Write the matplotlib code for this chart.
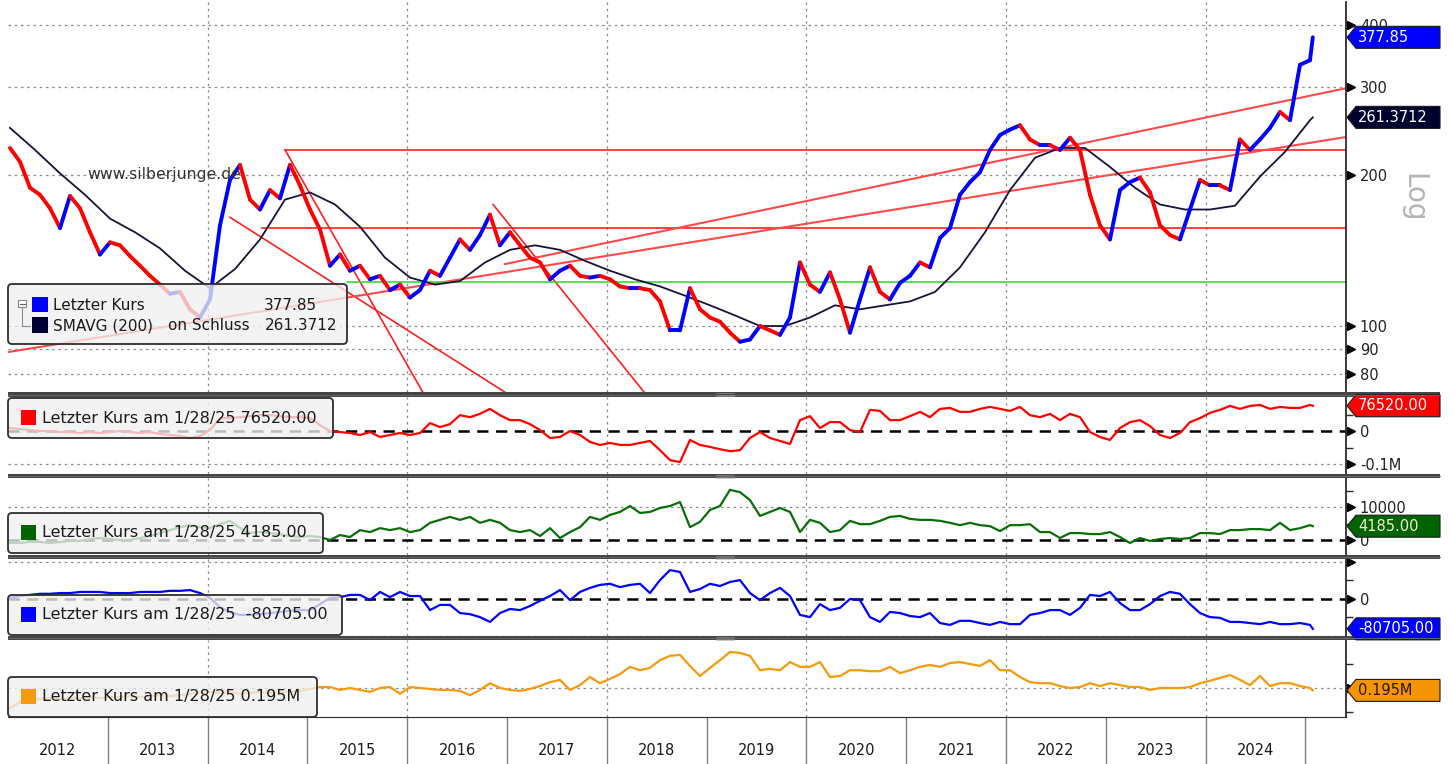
import numpy as np
import matplotlib
matplotlib.use('Agg')
import matplotlib.pyplot as plt
from matplotlib.collections import LineCollection
from matplotlib.patches import Rectangle, Polygon, FancyBboxPatch
from matplotlib.transforms import ScaledTranslation

# ---- data ----
# sample dates as decimal years (one reading about every 5 weeks), last quote 28 Jan 2025
LAST_DATE = 2025.074
dates = np.append(np.linspace(2012.02, 2025.046, 131), LAST_DATE)
sma_dates = np.append(np.linspace(2012.02, 2025.046, 53), LAST_DATE)

price = [227, 213, 189, 183, 172, 157, 182, 172, 154, 139,
         147, 145, 138, 132, 126, 121, 116, 117, 108, 104,
         113, 159, 196, 210, 179, 171, 187, 180, 210, 191,
         171, 156, 132, 139, 129, 132, 124, 126, 118, 121,
         114, 118, 129, 126, 137, 149, 142, 152, 167, 145,
         154, 145, 137, 134, 124, 129, 132, 126, 125, 126,
         124, 120, 119, 119, 118, 112, 98, 98, 119, 108,
         104, 102, 97, 93, 94, 100, 98, 96, 104, 134,
         121, 117, 128, 113, 97, 113, 131, 117, 113, 122,
         126, 134, 131, 150, 157, 183, 194, 203, 225, 241,
         247, 252, 236, 230, 230, 225, 238, 225, 183, 159,
         149, 187, 194, 198, 185, 159, 152, 149, 171, 196,
         191, 191, 187, 236, 225, 236, 249, 268, 258, 333,
         340, 377.85]

sma200 = [249, 225, 202, 183, 164, 154, 143, 129, 119, 130,
          149, 179, 185, 175, 158, 137, 125, 121, 123, 134,
          142, 145, 142, 135, 129, 124, 120, 115, 110, 105,
          100, 100, 104, 110, 108, 110, 112, 117, 131, 154,
          187, 217, 227, 227, 208, 189, 175, 171, 171, 174,
          199, 223, 258, 261.3712]

# lower panels (positions, thousands of contracts except the green one)
red_k = [9, 6, 3, 0, 0, -3, -3, -6, -3, -6,
         -3, 0, -3, -6, -3, -9, -12, -15, -21, -15,
         3, 39, 39, 42, 45, 48, 48, 45, 42, 42,
         39, 18, 0, -3, -6, -12, -3, -18, -12, -6,
         -12, -6, 24, 12, 21, 48, 42, 52, 67, 48,
         33, 33, 21, 3, -21, -18, 0, -12, -33, -42,
         -36, -42, -42, -36, -30, -58, -88, -94, -27, -42,
         -48, -55, -61, -58, -21, -3, -21, -30, -39, 33,
         45, 9, 27, 27, 3, -3, 64, 61, 33, 33,
         45, 58, 42, 67, 70, 58, 58, 67, 73, 67,
         61, 73, 48, 42, 52, 33, 52, 42, -3, -18,
         -27, 9, 27, 33, 15, -12, -21, -6, 27, 39,
         55, 64, 76, 67, 76, 79, 67, 73, 70, 70,
         79, 76.52]

green = [-900, -900, -600, -600, -900, -600, -300, -300, 300, 600,
         300, 0, 0, 600, 1200, 2100, 3000, 3900, 4500, 3900,
         3600, 4800, 5800, 3600, 2100, 2400, 2100, 1800, 1200, 900,
         1200, 900, 0, 1500, 900, 3000, 2400, 3600, 3000, 3600,
         2400, 3000, 5200, 6100, 7000, 6100, 7000, 5200, 6100, 5200,
         3000, 2400, 3000, 1200, 3600, 600, 2400, 3900, 7000, 6100,
         7600, 8500, 10300, 8200, 8500, 9700, 10300, 11500, 3900, 5500,
         9100, 10300, 15200, 14500, 12100, 7300, 8500, 9700, 8500, 2400,
         6100, 5200, 2400, 3000, 5800, 4800, 4800, 5800, 7000, 7300,
         6400, 6100, 6100, 5800, 5200, 4500, 5200, 4500, 4200, 2700,
         4500, 4500, 4800, 2400, 2400, 600, 2100, 2100, 1800, 1800,
         2400, 900, -900, 600, -300, 300, 600, 300, 600, 2100,
         2100, 1800, 3000, 3000, 3300, 3300, 3000, 5200, 3000, 3600,
         4500, 4185]

blue_k = [3, 8, 11, 14, 14, 16, 16, 19, 19, 19,
          16, 16, 16, 19, 19, 19, 22, 22, 24, 16,
          3, -22, -35, -43, -43, -41, -38, -35, -32, -30,
          -30, -14, 3, 5, 11, 11, -3, 19, 5, 19,
          8, 8, -30, -16, -16, -38, -41, -49, -62, -38,
          -27, -30, -19, -5, 8, 24, -3, 19, 30, 38,
          41, 32, 38, 41, 16, 51, 78, 73, 19, 27,
          41, 35, 46, 51, 16, -3, 16, 30, 8, -43,
          -49, -14, -30, -24, 0, -3, -49, -62, -35, -38,
          -46, -49, -38, -65, -70, -59, -59, -65, -70, -62,
          -68, -68, -43, -38, -30, -30, -43, -24, 11, 8,
          19, -11, -30, -30, -14, 8, 19, 14, -14, -38,
          -49, -51, -62, -62, -65, -68, -62, -68, -68, -65,
          -70, -80.705]

orange_k = [158, 171, 175, 177, 179, 177, 179, 179, 181, 179,
            181, 181, 183, 181, 183, 185, 183, 185, 188, 190,
            192, 190, 192, 188, 190, 192, 190, 192, 192, 194,
            198, 202, 202, 196, 200, 196, 192, 200, 202, 188,
            202, 200, 198, 196, 196, 194, 185, 196, 210, 200,
            196, 194, 198, 204, 212, 217, 196, 206, 223, 210,
            219, 229, 244, 237, 242, 258, 267, 269, 246, 225,
            242, 258, 275, 273, 267, 237, 240, 237, 254, 244,
            244, 254, 223, 225, 237, 237, 235, 235, 244, 231,
            237, 244, 248, 244, 252, 254, 250, 246, 258, 237,
            237, 223, 212, 210, 210, 204, 200, 202, 210, 204,
            210, 206, 202, 202, 196, 200, 200, 200, 202, 210,
            215, 221, 227, 217, 206, 225, 204, 210, 210, 204,
            200, 195]

years = list(range(2012, 2025))
price_ticks = [80, 90, 100, 200, 300, 400]

# drawn support/resistance lines: (start date, start value, end date, end value)
red_levels = [(2014.776, 225, 2025.41, 225),
              (2014.545, 157, 2025.41, 157)]
red_falling = [(2014.776, 225, 2016.16, 73.5),
               (2014.224, 165, 2016.99, 73.5),
               (2016.86, 175, 2018.38, 73.5)]
red_rising = [(2012.0, 88.7, 2025.41, 238.8),
              (2016.98, 133, 2025.41, 299)]
green_level = (2015.40, 122.5, 2025.41, 122.5)

# ---- figure ----
W, H = 1454, 764
fig = plt.figure(figsize=(W / 100, H / 100), dpi=100)


def px_axes(x0, y0, x1, y1):
    return fig.add_axes([x0 / W, 1 - y1 / H, (x1 - x0) / W, (y1 - y0) / H])


X0, X1 = 8, 1346
XLIM = (2012.0, 2012.0 + (X1 - X0) / 99.8)
GRID = dict(color='#8c8c8c', lw=0.9, ls=(0, (2, 3)), zorder=1)

ax_main = px_axes(X0, 2, X1, 392)
ax_red = px_axes(X0, 397, X1, 474)
ax_green = px_axes(X0, 478, X1, 555)
ax_blue = px_axes(X0, 559, X1, 636)
ax_orange = px_axes(X0, 640, X1, 717)


def setup(ax, ylim, major, labels, minor=(), grid=(), log=False):
    if log:
        ax.set_yscale('log')
    ax.set_xlim(XLIM)
    ax.set_ylim(ylim)
    for s in ('left', 'top', 'bottom'):
        ax.spines[s].set_visible(False)
    ax.spines['right'].set_color('#2b2b2b')
    ax.spines['right'].set_linewidth(1.3)
    ax.yaxis.tick_right()
    ax.set_yticks(major, labels)
    ax.set_yticks(list(minor), minor=True)
    ax.tick_params(axis='y', which='major', length=0, pad=10, labelsize=10.5, labelcolor='#222222')
    ax.tick_params(axis='y', which='minor', length=5, width=1, color='#2b2b2b')
    ax.set_xticks([])
    for v in grid:
        ax.axhline(v, **GRID)
    for yr in range(2014, 2025, 2):
        ax.axvline(yr, **GRID)
    tr = ax.get_yaxis_transform() + ScaledTranslation(0.045, 0, fig.dpi_scale_trans)
    ax.plot([1.0] * len(major), major, ls='none', marker='>', ms=6, color='black',
            transform=tr, clip_on=False, zorder=6)


setup(ax_main, (73.8, 444.6), price_ticks, [str(v) for v in price_ticks],
      grid=price_ticks, log=True)
setup(ax_red, (-130, 103), [0, -100], ['0', '-0.1M'], minor=[50, -50], grid=[-100])
setup(ax_green, (-4545, 18788), [10000, 0], ['10000', '0'], minor=[15000, 5000], grid=[10000])
setup(ax_blue, (-100, 108), [100, 0], ['', '0'], minor=[50, -50], grid=[100, -100])
setup(ax_orange, (139.6, 300), [200], [''], minor=[250, 150], grid=[200])

for ax in (ax_red, ax_green, ax_blue):
    ax.axhline(0, color='black', lw=1.8, dashes=(4.5, 3), zorder=2)

# main panel: price bars (blue up, red down) and 200d average
pts = np.column_stack([dates, price])
segs = np.stack([pts[:-1], pts[1:]], axis=1)
cols = np.where(np.diff(price) < 0, '#ff0000', '#0000ff')
ax_main.add_collection(LineCollection(segs, colors=cols, linewidths=2.8,
                                      capstyle='round', zorder=4))
ax_main.plot(sma_dates, sma200, color='#14143c', lw=1.3, zorder=3)

for x0, y0, x1, y1 in red_levels + red_falling:
    ax_main.plot([x0, x1], [y0, y1], color='#ff2020', lw=1.2, zorder=2)
for x0, y0, x1, y1 in red_rising:
    ax_main.plot([x0, x1], [y0, y1], color='#ff4a4a', lw=1.5, zorder=2)
gx0, gy0, gx1, gy1 = green_level
ax_main.plot([gx0, gx1], [gy0, gy1], color='#33dd33', lw=1.2, zorder=2)

ax_red.plot(dates, red_k, color='#ff0000', lw=1.6, zorder=3)
ax_green.plot(dates, green, color='#0a6e0a', lw=1.6, zorder=3)
ax_blue.plot(dates, blue_k, color='#0000ff', lw=1.6, zorder=3)
ax_orange.plot(dates, orange_k, color='#f59a0c', lw=1.6, zorder=3)

# year axis under the last panel
ax_orange.spines['bottom'].set_visible(True)
ax_orange.spines['bottom'].set_color('#2b2b2b')
ax_orange.set_xticks(range(2013, 2026))
ax_orange.set_xticklabels([])
ax_orange.set_xticks([y + 0.5 for y in years], [str(y) for y in years], minor=True)
ax_orange.tick_params(axis='x', which='major', length=34, width=1, color='#808080')
ax_orange.tick_params(axis='x', which='minor', length=0, pad=19, labelsize=10.5, labelcolor='#1a1a1a')

# ---- overlay in pixel coordinates: separators, legends, value tags ----
ov = fig.add_axes([0, 0, 1, 1], zorder=10)
ov.set_xlim(0, W)
ov.set_ylim(H, 0)
ov.axis('off')

for ya, yb in [(392, 397), (474, 478), (555, 559), (636, 640)]:
    ov.add_patch(Rectangle((X0, ya), 1440 - X0, yb - ya, fc='#464646', ec='none'))
    ov.plot([X0, 1440], [(ya + yb) / 2] * 2, color='#666666', lw=0.7)
    for k in range(3):
        ov.plot([716, 734], [ya + 1.3 + k * 1.2] * 2, color='#a0a0a0', lw=0.4)

BOX_FC = (0.94, 0.94, 0.94, 0.78)


def legend_box(x0, y0, x1, y1):
    ov.add_patch(FancyBboxPatch((x0, y0), x1 - x0, y1 - y0,
                                boxstyle='round,pad=0,rounding_size=4',
                                fc=BOX_FC, ec='#2e2e2e', lw=1.3))


# main legend
legend_box(8, 284, 347, 344)
ov.add_patch(Rectangle((18, 300), 8, 7, fc='white', ec='#8a8a8a', lw=0.8))
ov.plot([19.5, 24.5], [303.5, 303.5], color='#666666', lw=0.8)
ov.plot([22, 22, 30], [307, 326, 326], color='#8a8a8a', lw=0.8)
ov.add_patch(Rectangle((32, 297), 16, 15, fc='#0000ff', ec='none'))
ov.add_patch(Rectangle((32, 317), 16, 16, fc='#000033', ec='none'))
ov.text(53, 305, 'Letzter Kurs', fontsize=11, va='center', color='#1a1a1a')
ov.text(317, 305, f'{price[-1]:.2f}', fontsize=11, va='center', ha='right', color='#1a1a1a')
ov.text(53, 326, 'SMAVG (200)', fontsize=11, va='center', color='#1a1a1a')
ov.text(168, 326, 'on Schluss', fontsize=11, va='center', color='#1a1a1a')
ov.text(337, 326, f'{sma200[-1]:.4f}', fontsize=11, va='center', ha='right', color='#1a1a1a')

ov.text(87, 174, 'www.silberjunge.de', fontsize=11.3, va='center', color='#333333')
ov.text(1413, 198, 'Log', fontsize=20, rotation=-90, ha='center', va='center', color='#b4b4b4')

red_txt = f'{red_k[-1] * 1000:.2f}'
green_txt = f'{green[-1]:.2f}'
blue_txt = f'{blue_k[-1] * 1000:.2f}'
orange_txt = f'{orange_k[-1] / 1000:.3f}M'

sub_legends = [(398, 438, 333, '#ff0000', red_txt),
               (513, 553, 323, '#006400', green_txt),
               (595, 635, 342, '#0000ff', ' ' + blue_txt),
               (677, 717, 317, '#f59a0c', orange_txt)]
for y0, y1, x1, c, txt in sub_legends:
    legend_box(8, y0, x1, y1)
    yc = (y0 + y1) / 2
    ov.add_patch(Rectangle((21, yc - 8.5), 15, 15, fc=c, ec='none'))
    ov.text(42, yc, f'Letzter Kurs am 1/28/25 {txt}', fontsize=11.5, va='center', color='#1a1a1a')


def tag(ax, value, text, fc, tc):
    y = H - ax.transData.transform((XLIM[0], value))[1]
    ov.add_patch(Polygon([(1347, y), (1356, y - 11), (1440, y - 11), (1440, y + 11), (1356, y + 11)],
                         closed=True, fc=fc, ec='#1a1a1a', lw=0.8))
    ov.text(1358, y, text, fontsize=10.5, va='center', ha='left', color=tc)


tag(ax_main, price[-1], f'{price[-1]:.2f}', '#0000ff', 'white')
tag(ax_main, sma200[-1], f'{sma200[-1]:.4f}', '#00002e', 'white')
tag(ax_red, red_k[-1], red_txt, '#ff0000', 'white')
tag(ax_green, green[-1], green_txt, '#006400', '#f0f0d0')
tag(ax_blue, blue_k[-1], blue_txt, '#0000ff', 'white')
tag(ax_orange, orange_k[-1], orange_txt, '#f39400', '#2a1a00')

fig.savefig('out.png', dpi=100)
